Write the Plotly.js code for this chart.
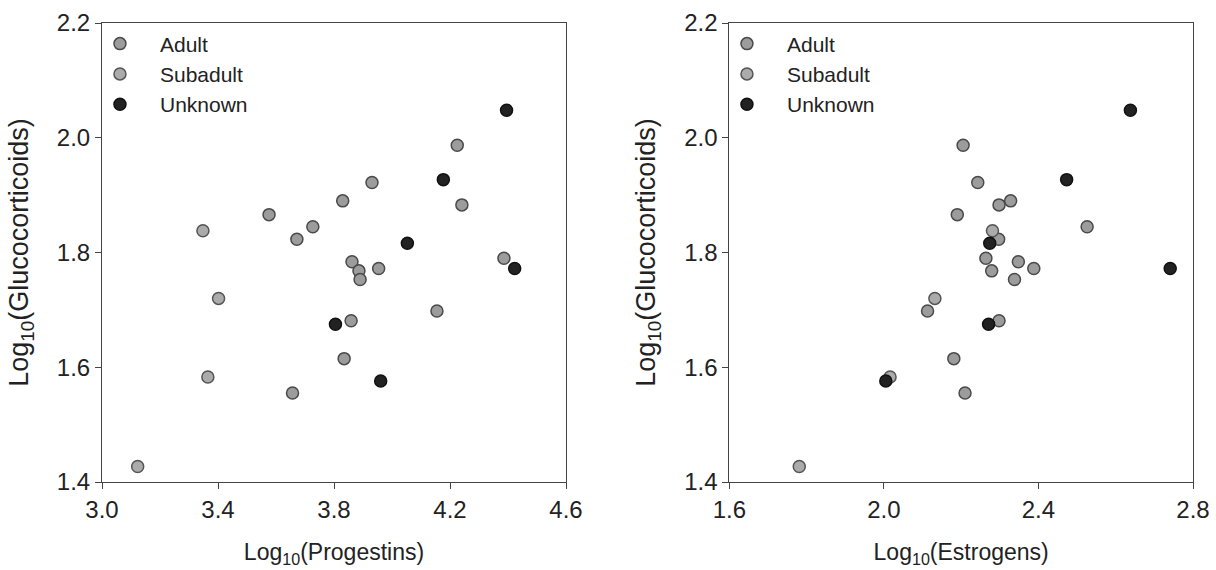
<!DOCTYPE html>
<html>
<head>
<meta charset="utf-8">
<script src="https://cdn.plot.ly/plotly-3.0.1.min.js"></script>
<style>html,body{margin:0;padding:0;background:#fff;}#chart{width:1216px;height:570px;}</style>
</head>
<body>
<div id="chart"></div>
<script>
// Adult
const adultGC   = [1.987, 1.922, 1.890, 1.883, 1.866, 1.845, 1.823, 1.790, 1.784, 1.772, 1.768, 1.753, 1.698, 1.681, 1.615, 1.555];
const adultProg = [4.225, 3.931, 3.830, 4.241, 3.576, 3.727, 3.672, 4.386, 3.862, 3.954, 3.886, 3.890, 4.155, 3.859, 3.835, 3.657];
const adultEstr = [2.205, 2.243, 2.328, 2.298, 2.190, 2.526, 2.297, 2.264, 2.348, 2.388, 2.279, 2.338, 2.113, 2.298, 2.181, 2.210];
// Subadult
const subGC   = [1.838, 1.720, 1.583, 1.427];
const subProg = [3.348, 3.402, 3.365, 3.123];
const subEstr = [2.281, 2.132, 2.016, 1.781];
// Unknown
const unkGC   = [2.048, 1.927, 1.816, 1.772, 1.675, 1.576];
const unkProg = [4.395, 4.177, 4.053, 4.423, 3.805, 3.961];
const unkEstr = [2.638, 2.473, 2.274, 2.741, 2.271, 2.005];

const groupNames = ['Adult', 'Subadult', 'Unknown'];
const xTitles = ['Log<sub>10</sub>(Progestins)', 'Log<sub>10</sub>(Estrogens)'];
const yTitle = 'Log<sub>10</sub>(Glucocorticoids)';

const fills = ['#9c9c9c', '#ababab', '#222222'];
const lines = ['#4a4a4a', '#555555', '#111111'];

const groups = [
  {gc: adultGC, prog: adultProg, estr: adultEstr},
  {gc: subGC, prog: subProg, estr: subEstr},
  {gc: unkGC, prog: unkProg, estr: unkEstr}
];

const traces = [];
groups.forEach((g, i) => {
  traces.push({
    x: g.prog, y: g.gc, xaxis: 'x', yaxis: 'y', type: 'scatter', mode: 'markers',
    name: groupNames[i], legend: 'legend',
    marker: {size: 12, color: fills[i], line: {color: lines[i], width: 1.5}}
  });
});
groups.forEach((g, i) => {
  traces.push({
    x: g.estr, y: g.gc, xaxis: 'x2', yaxis: 'y2', type: 'scatter', mode: 'markers',
    name: groupNames[i], legend: 'legend2',
    marker: {size: 12, color: fills[i], line: {color: lines[i], width: 1.5}}
  });
});

const fam = 'Liberation Sans, Arial, sans-serif';
const tickFont = {family: fam, size: 24, color: '#222'};
const xTitleFont = {family: fam, size: 23, color: '#222'};
const yTitleFont = {family: fam, size: 27, color: '#222'};
const legFont = {family: fam, size: 21, color: '#222'};
const axisCommon = {
  showgrid: false, zeroline: false, showline: true, mirror: true,
  linecolor: '#444', linewidth: 1, ticks: 'outside', ticklen: 6, tickcolor: '#444',
  tickformat: '.1f', tickfont: tickFont
};

const layout = {
  width: 1216, height: 570,
  paper_bgcolor: '#fff', plot_bgcolor: '#fff',
  font: tickFont,
  margin: {l: 102, r: 23, t: 23, b: 88, autoexpand: false},
  showlegend: true,
  xaxis: Object.assign({}, axisCommon, {domain: [0, 0.4253], range: [3.0, 4.6], dtick: 0.4, tick0: 3.0,
    title: {text: xTitles[0], font: xTitleFont, standoff: 22}}),
  yaxis: Object.assign({}, axisCommon, {range: [1.4, 2.2], dtick: 0.2, tick0: 1.4,
    title: {text: yTitle, font: yTitleFont, standoff: 20}}),
  xaxis2: Object.assign({}, axisCommon, {domain: [0.575, 1], range: [1.6, 2.8], dtick: 0.4, tick0: 1.6, anchor: 'y2',
    title: {text: xTitles[1], font: xTitleFont, standoff: 22}}),
  yaxis2: Object.assign({}, axisCommon, {range: [1.4, 2.2], dtick: 0.2, tick0: 1.4, anchor: 'x2',
    title: {text: yTitle, font: yTitleFont, standoff: 20}}),
  legend: {xref: 'paper', yref: 'paper', x: -0.0202, y: 0.999, xanchor: 'left', yanchor: 'top',
    bgcolor: 'rgba(0,0,0,0)', font: legFont, tracegroupgap: 0, itemwidth: 70},
  legend2: {xref: 'paper', yref: 'paper', x: 0.5545, y: 0.999, xanchor: 'left', yanchor: 'top',
    bgcolor: 'rgba(0,0,0,0)', font: legFont, tracegroupgap: 0, itemwidth: 70}
};

Plotly.newPlot('chart', traces, layout, {displayModeBar: false, staticPlot: true});
</script>
</body>
</html>
